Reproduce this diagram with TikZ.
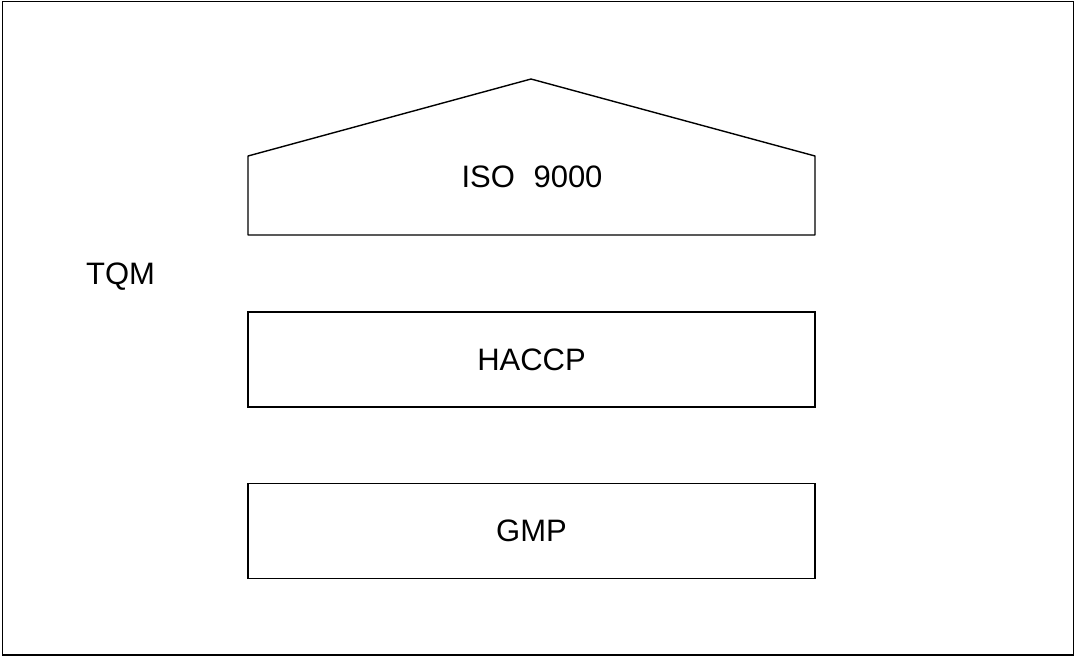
\documentclass[tikz,border=0pt]{standalone}
\usepackage{fontspec}
\setmainfont{Liberation Sans}
\begin{document}
\begin{tikzpicture}[x=1pt,y=-1pt,
  lbl/.style={font=\fontsize{31}{37}\selectfont, inner sep=0pt},
  layer/.style={draw, line width=1.4pt, minimum width=567pt, minimum height=95pt, inner sep=0pt, font=\fontsize{31}{37}\selectfont},
  frame/.style={draw, line width=1.2pt}]
\useasboundingbox (0,0) rectangle (1075,657);
\draw[frame] (2.5,1.5) rectangle (1073.5,655);
% ISO 9000 roof shape
\coordinate (bl) at (248,235);
\coordinate (sl) at (248,156);
\coordinate (ap) at (531,79);
\coordinate (sr) at (815,156);
\coordinate (br) at (815,235);
\draw[line width=1.4pt, line join=round] (bl) -- (sl) -- (ap) -- (sr) -- (br) -- cycle;
\node[lbl, anchor=base] (iso) at (532,187) {ISO\hspace{0.6em}9000};
\node[layer] (haccp) at (531.5,359.5) {HACCP};
\node[layer] (gmp) at (531.5,531) {GMP};
\node[lbl, anchor=base] (tqm) at (120.5,284) {TQM};
\end{tikzpicture}
\end{document}
